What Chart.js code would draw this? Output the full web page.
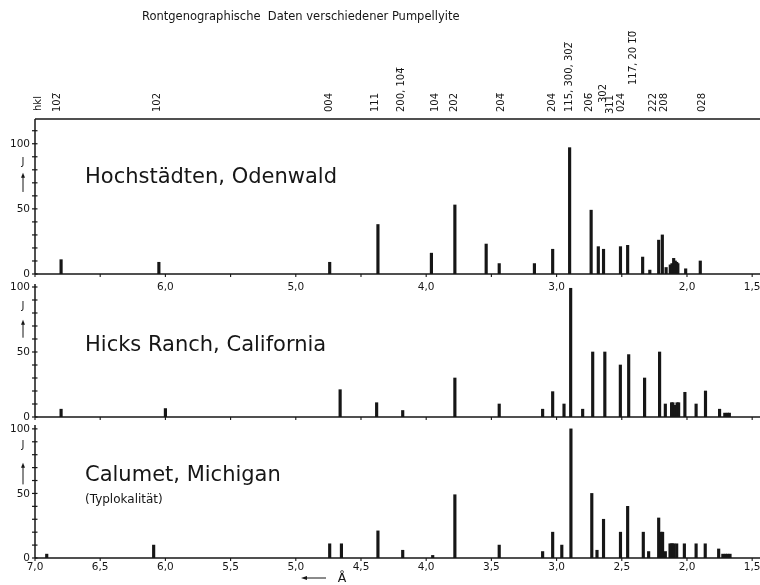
<!DOCTYPE html>
<html><head><meta charset="utf-8">
<script src="https://cdn.jsdelivr.net/npm/chart.js@4"></script>
<style>
html,body{margin:0;padding:0;background:#fff;}
#wrap{position:relative;width:760px;height:585px;overflow:hidden;background:#fff;}
#wrap canvas{position:absolute;left:0;top:0;}
</style></head><body>
<div id="wrap">
<canvas id="c1" width="760" height="585"></canvas>
<canvas id="c2" width="760" height="585"></canvas>
<canvas id="c3" width="760" height="585"></canvas>
</div>
<script>
// ---------------- DATA ----------------
const titleText = 'Rontgenographische  Daten verschiedener Pumpellyite';
const panelNames = ['Hochstädten, Odenwald', 'Hicks Ranch, California', 'Calumet, Michigan'];
const panelNotes = ['', '', '(Typlokalität)'];
const yAxisSymbol = 'J';
const unitLabel = 'Å';

// d-spacings (Å) and relative intensities J
const hochD = [6.80, 6.05, 4.74, 4.37, 3.96, 3.78, 3.54, 3.44, 3.17, 3.03, 2.90, 2.735, 2.68, 2.64, 2.51, 2.455, 2.34, 2.285, 2.217, 2.189, 2.16, 2.128, 2.115, 2.102, 2.09, 2.079, 2.07, 2.01, 1.898];
const hochI = [11, 9, 9, 38, 16, 53, 23, 8, 8, 19, 97, 49, 21, 19, 21, 22, 13, 3, 26, 30, 5, 7, 8, 12, 10, 9, 8, 4, 10];

const hicksD = [6.80, 6.00, 4.66, 4.38, 4.18, 3.78, 3.44, 3.107, 3.03, 2.943, 2.892, 2.80, 2.723, 2.63, 2.511, 2.447, 2.325, 2.21, 2.166, 2.118, 2.108, 2.098, 2.088, 2.076, 2.064, 2.016, 1.93, 1.858, 1.75, 1.71, 1.69, 1.675];
const hicksI = [6, 6.5, 21, 11, 5, 30, 10, 6, 19.5, 10, 99, 6, 50, 50, 40, 48, 30, 50, 10, 11, 11, 9, 9, 11, 11, 19, 10, 20, 6, 3, 3, 3];

const calD = [6.91, 6.09, 4.74, 4.65, 4.37, 4.18, 3.95, 3.78, 3.44, 3.107, 3.03, 2.96, 2.89, 2.73, 2.69, 2.64, 2.51, 2.455, 2.335, 2.294, 2.217, 2.20, 2.187, 2.166, 2.13, 2.12, 2.11, 2.10, 2.079, 2.02, 1.93, 1.86, 1.757, 1.725, 1.705, 1.688, 1.67];
const calI = [3, 10, 11, 11, 21, 6, 2, 49, 10, 5, 20, 10, 100, 50, 6, 30, 20, 40, 20, 5, 31, 20, 20, 5, 11, 11, 11, 11, 11, 11, 11, 11, 7, 3, 3, 3, 3];

// hkl indices and their d positions
const hklHeader = 'hkl';
const hklLabels = ['102\u0305', '102', '004', '111', '200, 104\u0305', '104', '202', '204\u0305', '204', '115, 300, 302\u0305', '206\u0305', '302', '311', '024', '117\u0305, 20 1\u03050\u0305', '222', '208', '028'];
const hklD = [6.83, 6.06, 4.745, 4.39, 4.19, 3.93, 3.78, 3.42, 3.03, 2.90, 2.75, 2.64, 2.59, 2.50, 2.41, 2.26, 2.17, 1.885];

// axis ticks
const xTickValues = [7.0, 6.5, 6.0, 5.5, 5.0, 4.5, 4.0, 3.5, 3.0, 2.5, 2.0, 1.5];
const xTopLabelValues = [6.0, 5.0, 4.0, 3.0, 2.0, 1.5];
const xTopLabels = ['6,0', '5,0', '4,0', '3,0', '2,0', '1,5'];
const xBottomLabels = ['7,0', '6,5', '6,0', '5,5', '5,0', '4,5', '4,0', '3,5', '3,0', '2,5', '2,0', '1,5'];
const yMinorTicks = [0, 10, 20, 30, 40, 50, 60, 70, 80, 90, 100, 110];
const yLabelValues = [0, 50, 100];
const yLabels = ['0', '50', '100'];

// ---------------- LAYOUT / STYLE ----------------
const INK = '#161616';
const FONT = '"DejaVu Sans", sans-serif';
const W = 760, H = 585;
const hklLift = [0, 0, 0, 0, 0, 0, 0, 0, 0, 0, 0, 9, -2, 0, 27, 0, 0, 0];

const panels = [
  {id: 'c1', d: hochD, I: hochI, top: 119, bottom: 274, ymax: 119, yTickMax: 110, name: 0,
   nameVal: 74, noteVal: null, jVal: 86, arrow: [63, 77], topBorder: true, header: true,
   xLabelVals: xTopLabelValues, xLabels: xTopLabels, xLabelDy: 13},
  {id: 'c2', d: hicksD, I: hicksI, top: 284, bottom: 417, ymax: 102.3, yTickMax: 100, name: 1,
   nameVal: 55, noteVal: null, jVal: 85, arrow: [61, 74], topBorder: false, header: false,
   xLabelVals: [], xLabels: [], xLabelDy: 0},
  {id: 'c3', d: calD, I: calI, top: 425, bottom: 558, ymax: 103, yTickMax: 100, name: 2,
   nameVal: 64, noteVal: 45, jVal: 87, arrow: [57, 73], topBorder: false, header: false,
   xLabelVals: xTickValues, xLabels: xBottomLabels, xLabelDy: 9, unitArrow: true}
];

function line(ctx, x1, y1, x2, y2) {
  ctx.beginPath(); ctx.moveTo(x1, y1); ctx.lineTo(x2, y2); ctx.stroke();
}

const decor = {
  id: 'decor',
  afterDatasetsDraw(chart) {
    const p = panels.find(q => q.id === chart.canvas.id);
    const ctx = chart.ctx, xs = chart.scales.x, ys = chart.scales.y, a = chart.chartArea;
    const y0 = ys.getPixelForValue(0);
    ctx.save();
    ctx.strokeStyle = INK; ctx.fillStyle = INK; ctx.lineWidth = 1.5;
    // axis lines
    line(ctx, a.left, y0, a.right, y0);
    line(ctx, a.left, a.top, a.left, y0);
    if (p.topBorder) line(ctx, a.left, a.top, a.right, a.top);
    // y ticks
    ctx.lineWidth = 1.2;
    yMinorTicks.filter(v => v <= p.yTickMax).forEach(v => {
      const py = ys.getPixelForValue(v);
      line(ctx, a.left - 3, py, a.left + 2.5, py);
    });
    ctx.font = '10.5px ' + FONT; ctx.textAlign = 'right'; ctx.textBaseline = 'middle';
    yLabelValues.forEach((v, i) => {
      ctx.fillText(yLabels[i], a.left - 5, ys.getPixelForValue(v) + 0.5);
    });
    // x ticks
    ctx.lineWidth = 1.1;
    xTickValues.forEach(v => {
      const px = xs.getPixelForValue(v);
      line(ctx, px, y0, px, y0 + 3);
    });
    ctx.textAlign = 'center';
    ctx.font = '10.5px ' + FONT;
    p.xLabelVals.forEach((v, i) => {
      ctx.fillText(p.xLabels[i], xs.getPixelForValue(v), y0 + p.xLabelDy);
    });
    // J with arrow
    const jx = a.left - 12;
    ctx.font = '10px ' + FONT;
    ctx.fillText(yAxisSymbol, jx, ys.getPixelForValue(p.jVal));
    ctx.lineWidth = 1;
    const ya = ys.getPixelForValue(p.arrow[0]), yb = ys.getPixelForValue(p.arrow[1]);
    line(ctx, jx, ya, jx, yb + 3);
    ctx.beginPath(); ctx.moveTo(jx, yb - 1); ctx.lineTo(jx - 2, yb + 4); ctx.lineTo(jx + 2, yb + 4); ctx.closePath(); ctx.fill();
    // panel names
    ctx.textAlign = 'left';
    ctx.font = '21px ' + FONT;
    ctx.fillText(panelNames[p.name], a.left + 50, ys.getPixelForValue(p.nameVal));
    if (p.noteVal !== null) {
      ctx.font = '12px ' + FONT;
      ctx.fillText(panelNotes[p.name], a.left + 50, ys.getPixelForValue(p.noteVal));
    }
    // header: title and hkl labels
    if (p.header) {
      ctx.font = '11.5px ' + FONT;
      ctx.textAlign = 'left';
      ctx.fillText(titleText, 142, 17);
      ctx.font = '10px ' + FONT;
      const drawRot = (txt, x, yb) => {
        ctx.save(); ctx.translate(x, yb); ctx.rotate(-Math.PI / 2);
        ctx.textAlign = 'left'; ctx.textBaseline = 'middle';
        ctx.fillText(txt, 0, 0); ctx.restore();
      };
      drawRot(hklHeader, a.left + 3, 111);
      hklLabels.forEach((t, i) => {
        drawRot(t, xs.getPixelForValue(hklD[i]), 112 - hklLift[i]);
      });
    }
    // unit arrow
    if (p.unitArrow) {
      const ay = y0 + 20;
      ctx.lineWidth = 1;
      line(ctx, 305, ay, 326, ay);
      ctx.beginPath(); ctx.moveTo(301, ay); ctx.lineTo(307, ay - 2); ctx.lineTo(307, ay + 2); ctx.closePath(); ctx.fill();
      ctx.font = '12.5px ' + FONT; ctx.textAlign = 'center';
      ctx.fillText(unitLabel, 342, ay + 1);
    }
    ctx.restore();
  }
};

panels.forEach(p => {
  new Chart(document.getElementById(p.id), {
    type: 'bar',
    data: {
      datasets: [{
        data: p.d.map((v, k) => ({x: v, y: p.I[k]})),
        backgroundColor: INK, borderWidth: 0, barThickness: 2.5
      }]
    },
    options: {
      responsive: false, animation: false, devicePixelRatio: 1,
      layout: {padding: {top: p.top, bottom: H - p.bottom, left: 35, right: 0}},
      plugins: {legend: {display: false}, tooltip: {enabled: false}, title: {display: false}},
      scales: {
        x: {type: 'linear', reverse: true, min: 1.44, max: 7.0, offset: false, display: false},
        y: {type: 'linear', min: 0, max: p.ymax, display: false}
      }
    },
    plugins: [decor]
  });
});
</script>
</body></html>
